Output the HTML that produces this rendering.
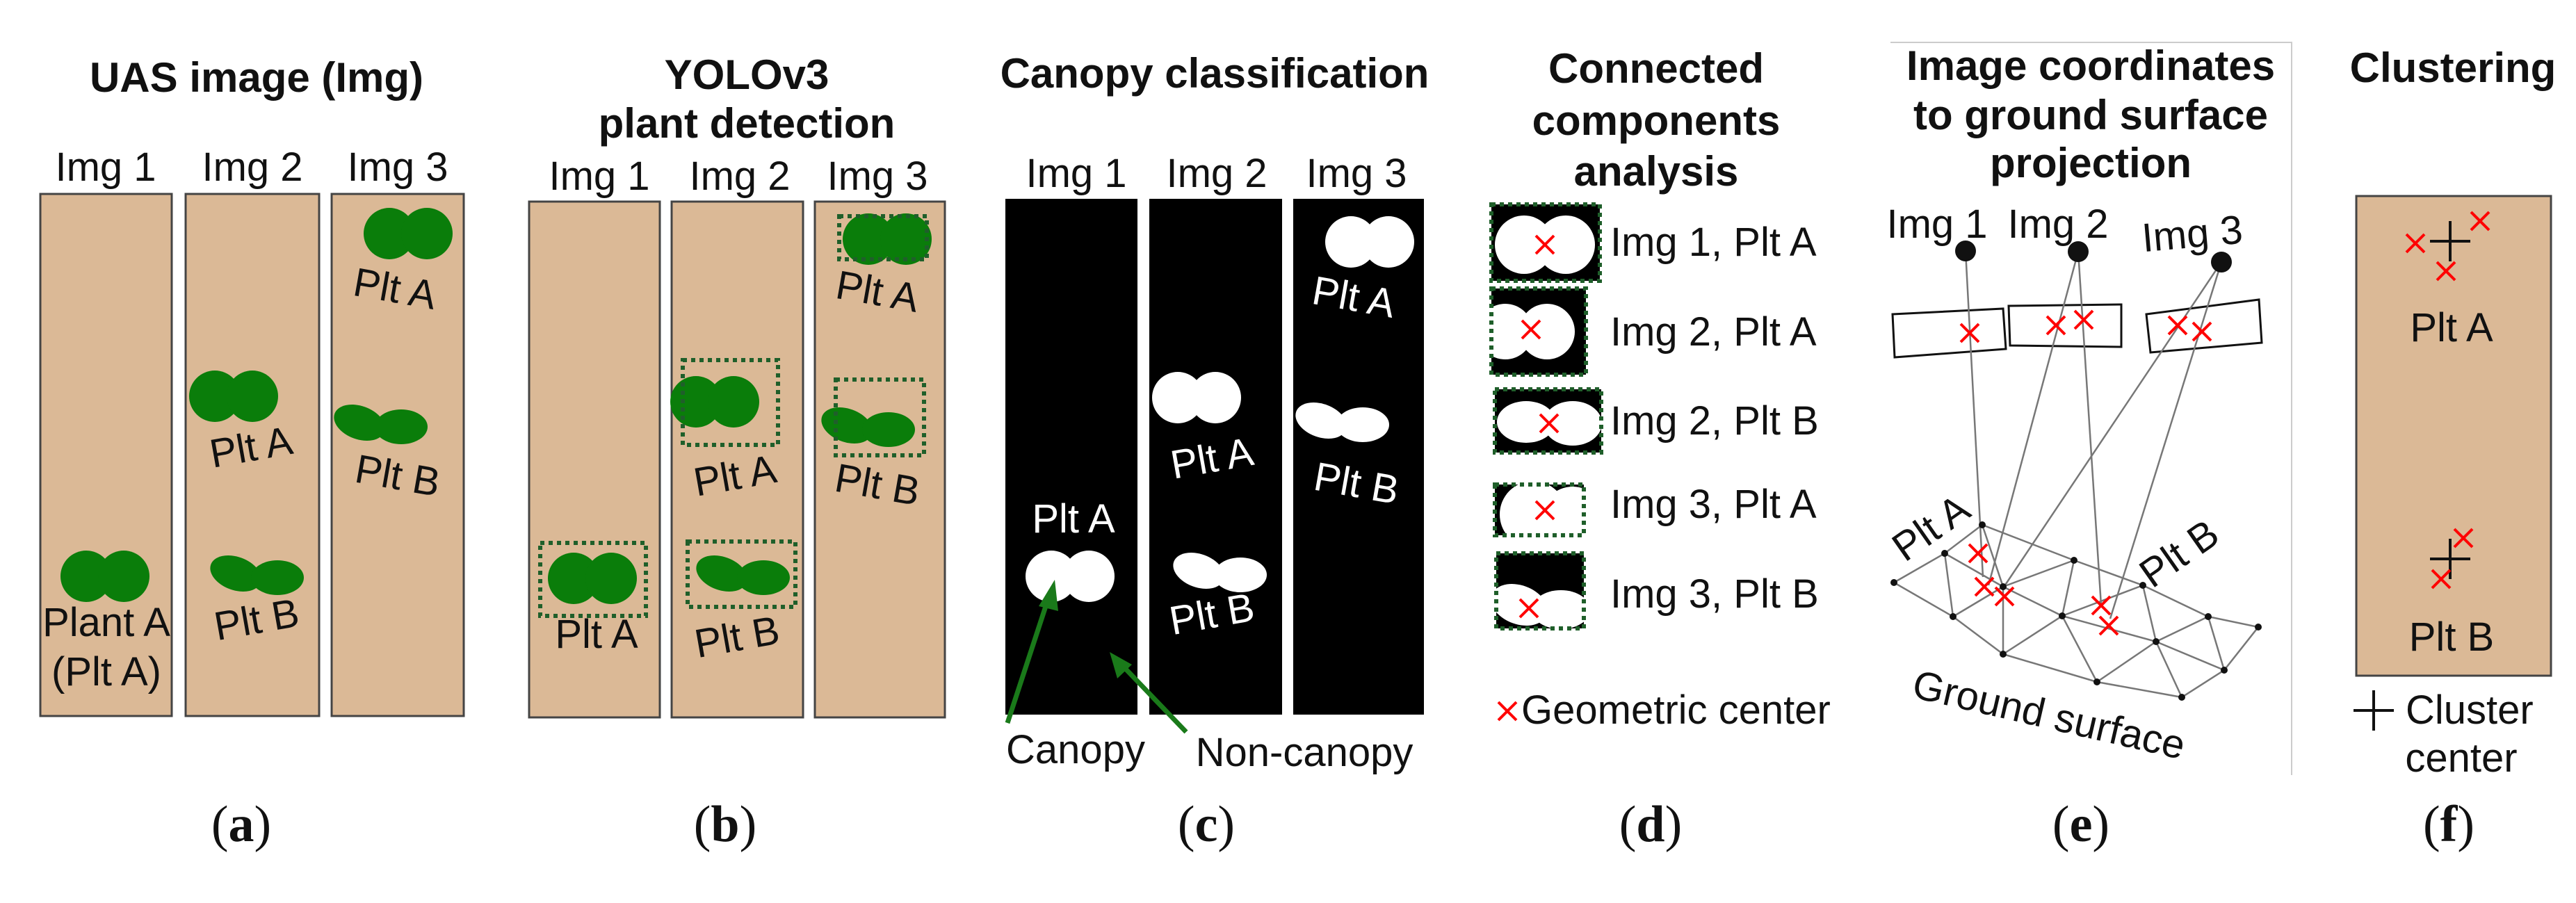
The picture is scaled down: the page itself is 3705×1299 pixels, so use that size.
<!DOCTYPE html>
<html><head><meta charset="utf-8"><style>
html,body{margin:0;padding:0;background:#fff}
svg{display:block}
text{font-family:"Liberation Sans",sans-serif}
.t{font-weight:bold;font-size:60px;fill:#111;text-anchor:middle}
.l{font-size:58px;fill:#111;text-anchor:middle}
.w{font-size:58px;fill:#fff;text-anchor:middle}
.cap{font-family:"Liberation Serif",serif;font-size:74px;fill:#111;text-anchor:middle}
.tan{fill:#dbb996;stroke:#444;stroke-width:3}
.box{fill:none;stroke:#1f5f2a;stroke-width:6;stroke-dasharray:6,6}
.rx{stroke:#f00;stroke-width:4;fill:none}
.gl{stroke:#777;stroke-width:2.5;fill:none}
</style></head><body>
<svg width="3705" height="1299" viewBox="0 0 3705 1299" xmlns="http://www.w3.org/2000/svg">
<defs>
<g id="dc"><circle cx="-27" cy="0" r="37"/><circle cx="27" cy="0" r="37"/></g>
<g id="el"><ellipse cx="-30" cy="-4" rx="38" ry="24" transform="rotate(20 -30 -4)"/><ellipse cx="30" cy="2" rx="38" ry="25"/></g>
<g id="x"><path d="M-13,-13 L13,13 M13,-13 L-13,13" class="rx"/></g>
<g id="pl"><path d="M-29,0 H29 M0,-29 V29" stroke="#111" stroke-width="4"/></g>
<clipPath id="c1"><rect x="2145" y="294" width="156" height="110"/></clipPath>
<clipPath id="c2"><rect x="2145" y="415" width="136" height="124"/></clipPath>
<clipPath id="c3"><rect x="2150" y="560" width="153" height="91"/></clipPath>
<clipPath id="c4"><rect x="2150" y="697" width="128" height="73"/></clipPath>
<clipPath id="c5"><rect x="2152" y="796" width="126" height="108"/></clipPath>
</defs>

<!-- (a) -->
<text class="t" x="369" y="132">UAS image (Img)</text>
<text class="l" x="152" y="260">Img 1</text>
<text class="l" x="363" y="260">Img 2</text>
<text class="l" x="572" y="260">Img 3</text>
<rect class="tan" x="58" y="279" width="189" height="751"/>
<rect class="tan" x="267" y="279" width="192" height="751"/>
<rect class="tan" x="477" y="279" width="190" height="751"/>
<use href="#dc" x="151" y="829" fill="#0a7d0a"/>
<text class="l" x="153" y="915">Plant A</text>
<text class="l" x="153" y="986">(Plt A)</text>
<use href="#dc" x="336" y="570" fill="#0a7d0a"/>
<text class="l" x="361" y="663" transform="rotate(-10 361 643)">Plt A</text>
<use href="#el" x="369" y="829" fill="#0a7d0a"/>
<text class="l" x="369" y="911" transform="rotate(-10 369 891)">Plt B</text>
<use href="#dc" x="587" y="336" fill="#0a7d0a"/>
<text class="l" x="568" y="435" transform="rotate(10 568 415)">Plt A</text>
<use href="#el" x="547" y="612" fill="#0a7d0a"/>
<text class="l" x="572" y="704" transform="rotate(10 572 684)">Plt B</text>
<text class="cap" x="347" y="1210">(<tspan font-weight="bold">a</tspan>)</text>

<!-- (b) -->
<text class="t" x="1074" y="128">YOLOv3</text>
<text class="t" x="1074" y="198">plant detection</text>
<text class="l" x="862" y="273">Img 1</text>
<text class="l" x="1064" y="273">Img 2</text>
<text class="l" x="1262" y="273">Img 3</text>
<rect class="tan" x="761" y="290" width="188" height="742"/>
<rect class="tan" x="966" y="290" width="189" height="742"/>
<rect class="tan" x="1172" y="290" width="187" height="742"/>
<use href="#dc" x="852" y="832" fill="#0a7d0a"/>
<rect class="box" x="777" y="781" width="152" height="105"/>
<text class="l" x="858" y="932">Plt A</text>
<use href="#dc" x="1028" y="578" fill="#0a7d0a"/>
<rect class="box" x="982" y="518" width="137" height="122"/>
<text class="l" x="1057" y="704" transform="rotate(-10 1057 684)">Plt A</text>
<use href="#el" x="1068" y="829" fill="#0a7d0a"/>
<rect class="box" x="989" y="779" width="155" height="94"/>
<text class="l" x="1060" y="936" transform="rotate(-10 1060 916)">Plt B</text>
<use href="#dc" x="1276" y="344" fill="#0a7d0a"/>
<rect class="box" x="1207" y="311" width="126" height="62"/>
<text class="l" x="1262" y="439" transform="rotate(10 1262 419)">Plt A</text>
<use href="#el" x="1248" y="616" fill="#0a7d0a"/>
<rect class="box" x="1202" y="546" width="127" height="109"/>
<text class="l" x="1262" y="717" transform="rotate(10 1262 697)">Plt B</text>
<text class="cap" x="1043" y="1210">(<tspan font-weight="bold">b</tspan>)</text>

<!-- (c) -->
<text class="t" x="1747" y="126">Canopy classification</text>
<text class="l" x="1548" y="269">Img 1</text>
<text class="l" x="1750" y="269">Img 2</text>
<text class="l" x="1951" y="269">Img 3</text>
<rect x="1446" y="286" width="190" height="742" fill="#000"/>
<rect x="1653" y="286" width="191" height="742" fill="#000"/>
<rect x="1860" y="286" width="188" height="742" fill="#000"/>
<text class="w" x="1544" y="766">Plt A</text>
<use href="#dc" x="1539" y="829" fill="#fff"/>
<use href="#dc" x="1721" y="572" fill="#fff"/>
<text class="w" x="1743" y="679" transform="rotate(-10 1743 659)">Plt A</text>
<use href="#el" x="1754" y="825" fill="#fff"/>
<text class="w" x="1743" y="903" transform="rotate(-10 1743 883)">Plt B</text>
<use href="#dc" x="1970" y="348" fill="#fff"/>
<text class="w" x="1947" y="447" transform="rotate(10 1947 427)">Plt A</text>
<use href="#el" x="1930" y="609" fill="#fff"/>
<text class="w" x="1951" y="715" transform="rotate(10 1951 695)">Plt B</text>
<path d="M1449,1040 L1508,860" stroke="#1a7a1a" stroke-width="7"/>
<path d="M1517,834 L1494,872 L1522,879 Z" fill="#1a7a1a"/>
<path d="M1706,1053 L1612,955" stroke="#1a7a1a" stroke-width="7"/>
<path d="M1596,938 L1607,976 L1628,956 Z" fill="#1a7a1a"/>
<text class="l" x="1547" y="1098">Canopy</text>
<text class="l" x="1876" y="1102">Non-canopy</text>
<text class="cap" x="1735" y="1210">(<tspan font-weight="bold">c</tspan>)</text>

<!-- (d) -->
<text class="t" x="2382" y="119">Connected</text>
<text class="t" x="2382" y="194">components</text>
<text class="t" x="2382" y="267">analysis</text>
<rect x="2145" y="294" width="156" height="110" fill="#000"/>
<g clip-path="url(#c1)" fill="#fff"><circle cx="2192" cy="352" r="42"/><circle cx="2252" cy="352" r="42"/></g>
<rect class="box" x="2145" y="294" width="156" height="110"/>
<use href="#x" x="2222" y="352"/>
<rect x="2145" y="415" width="136" height="124" fill="#000"/>
<g clip-path="url(#c2)" fill="#fff"><circle cx="2165" cy="477" r="40"/><circle cx="2225" cy="477" r="40"/></g>
<rect class="box" x="2145" y="415" width="136" height="124"/>
<use href="#x" x="2202" y="474"/>
<rect x="2150" y="560" width="153" height="91" fill="#000"/>
<g clip-path="url(#c3)" fill="#fff"><ellipse cx="2195" cy="607" rx="42" ry="30"/><ellipse cx="2262" cy="609" rx="42" ry="32"/></g>
<rect class="box" x="2150" y="560" width="153" height="91"/>
<use href="#x" x="2228" y="609"/>
<rect x="2150" y="697" width="128" height="73" fill="#000"/>
<g clip-path="url(#c4)" fill="#fff"><circle cx="2205" cy="740" r="48"/><circle cx="2262" cy="745" r="45"/></g>
<rect class="box" x="2150" y="697" width="128" height="73"/>
<use href="#x" x="2222" y="734"/>
<rect x="2152" y="796" width="126" height="108" fill="#000"/>
<g clip-path="url(#c5)" fill="#fff"><ellipse cx="2185" cy="870" rx="42" ry="28" transform="rotate(20 2185 870)"/><ellipse cx="2245" cy="877" rx="42" ry="28"/></g>
<rect class="box" x="2152" y="796" width="126" height="108"/>
<use href="#x" x="2199" y="875"/>
<g class="l" style="text-anchor:start">
<text x="2316" y="368">Img 1, Plt A</text>
<text x="2316" y="497">Img 2, Plt A</text>
<text x="2316" y="625">Img 2, Plt B</text>
<text x="2316" y="745">Img 3, Plt A</text>
<text x="2316" y="874">Img 3, Plt B</text>
<text x="2188" y="1041">Geometric center</text>
</g>
<use href="#x" x="2168" y="1023"/>
<text class="cap" x="2374" y="1210">(<tspan font-weight="bold">d</tspan>)</text>

<!-- (e) -->
<path d="M2719,61 H3296 V1115" stroke="#ccc" stroke-width="2" fill="none"/>
<text class="t" x="3007" y="115">Image coordinates</text>
<text class="t" x="3007" y="186">to ground surface</text>
<text class="t" x="3007" y="255">projection</text>
<text class="l" x="2786" y="342">Img 1</text>
<text class="l" x="2960" y="342">Img 2</text>
<text class="l" x="3153" y="356" transform="rotate(-5 3153 336)">Img 3</text>
<g stroke="#111" stroke-width="3" fill="none">
<path d="M2722,452 L2881,444 L2885,502 L2725,514 Z"/>
<path d="M2889,440 L3051,438 L3051,499 L2891,497 Z"/>
<path d="M3087,452 L3249,431 L3253,493 L3093,507 Z"/>
</g>
<g class="gl">
<path d="M2827,361 L2852,830"/>
<path d="M2989,362 L2860,842"/>
<path d="M2989,362 L3022,871"/>
<path d="M3195,377 L2881,846"/>
<path d="M3195,377 L3035,890"/>
<path d="M2724,838 L2797,796 L2851,755 L2983,806 L3082,842 L3176,887 L3248,902 L3199,964 L3138,1003 L3016,981 L2881,941 L2809,887 Z"/>
<path d="M2797,796 L2809,887 M2797,796 L2881,844 M2851,755 L2881,844 M2809,887 L2881,844 L2881,941 M2881,844 L2983,806 M2881,844 L2966,886 L2983,806 M2966,886 L3082,842 M2881,941 L2966,886 L3016,981 M2966,886 L3101,923 L3082,842 M3101,923 L3176,887 M3101,923 L3016,981 M3101,923 L3138,1003 M3101,923 L3199,964 L3176,887"/>
</g>
<g fill="#111">
<circle cx="2827" cy="361" r="15"/><circle cx="2989" cy="362" r="15"/><circle cx="3195" cy="377" r="15"/>
<circle cx="2724" cy="838" r="5"/><circle cx="2797" cy="796" r="5"/><circle cx="2851" cy="755" r="5"/><circle cx="2809" cy="887" r="5"/><circle cx="2881" cy="844" r="5"/><circle cx="2983" cy="806" r="5"/><circle cx="2881" cy="941" r="5"/><circle cx="2966" cy="886" r="5"/><circle cx="3082" cy="842" r="5"/><circle cx="3016" cy="981" r="5"/><circle cx="3101" cy="923" r="5"/><circle cx="3176" cy="887" r="5"/><circle cx="3248" cy="902" r="5"/><circle cx="3199" cy="964" r="5"/><circle cx="3138" cy="1003" r="5"/>
</g>
<use href="#x" x="2833" y="479"/><use href="#x" x="2957" y="468"/><use href="#x" x="2997" y="460"/><use href="#x" x="3132" y="468"/><use href="#x" x="3167" y="477"/>
<use href="#x" x="2845" y="796"/><use href="#x" x="2854" y="844"/><use href="#x" x="2883" y="858"/><use href="#x" x="3022" y="871"/><use href="#x" x="3033" y="900"/>
<text class="l" x="2777" y="779" transform="rotate(-35 2777 759)">Plt A</text>
<text class="l" x="3134" y="816" transform="rotate(-35 3134 796)">Plt B</text>
<text class="l" x="2947" y="1048" transform="rotate(13 2947 1028)">Ground surface</text>
<text class="cap" x="2993" y="1210">(<tspan font-weight="bold">e</tspan>)</text>

<!-- (f) -->
<text class="t" x="3528" y="118">Clustering</text>
<rect class="tan" x="3389" y="282" width="280" height="690"/>
<use href="#pl" x="3524" y="347"/>
<use href="#x" x="3474" y="350"/><use href="#x" x="3567" y="318"/><use href="#x" x="3518" y="390"/>
<text class="l" x="3526" y="491">Plt A</text>
<use href="#pl" x="3524" y="804"/>
<use href="#x" x="3543" y="774"/><use href="#x" x="3511" y="833"/>
<text class="l" x="3526" y="936">Plt B</text>
<use href="#pl" x="3414" y="1022"/>
<text class="l" x="3460" y="1041" style="text-anchor:start">Cluster</text>
<text class="l" x="3540" y="1110">center</text>
<text class="cap" x="3522" y="1210">(<tspan font-weight="bold">f</tspan>)</text>
</svg>
</body></html>
